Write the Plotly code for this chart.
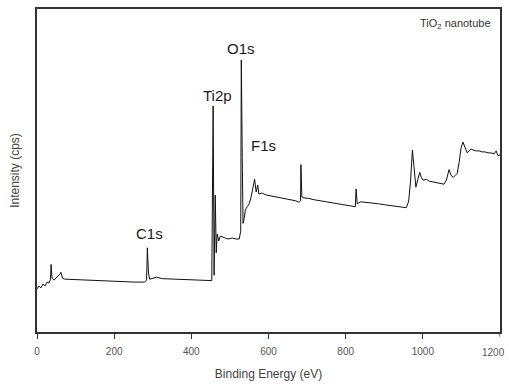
import plotly.graph_objects as go

# Binding energy (eV) and intensity (cps, arbitrary scale)
energy = [0, 5, 10, 15.5, 20.6, 26, 31, 35, 36.5, 39, 44, 49, 54, 59, 62, 66, 72, 98, 137, 175,
          214, 253, 279, 284, 286, 289, 292, 299, 310, 325, 356, 395, 434, 453, 456.5, 459, 462,
          464.5, 467, 471, 475, 480, 488, 495, 506, 516, 524, 528, 529.5, 532, 534, 537, 540,
          545, 550, 555, 560, 564, 568, 572, 575, 583, 594, 606, 619, 632, 645, 658, 671, 679,
          683, 684, 686.5, 692, 704, 720, 735, 751, 766, 782, 797, 813, 825, 827, 830, 839, 854,
          870, 885, 901, 916, 932, 947, 957, 963, 968, 973, 977, 982, 987, 992, 996, 1001, 1009,
          1017, 1024, 1032, 1040, 1048, 1055, 1061, 1066, 1068, 1073, 1079, 1084, 1089, 1094,
          1099, 1104, 1110, 1115, 1120, 1125, 1130, 1138, 1146, 1154, 1161, 1169, 1177, 1185,
          1190, 1195, 1200]
intensity = [13200, 14100, 13500, 14700, 14100, 15300, 15000, 16200, 20700, 16500, 15900, 16500,
             16800, 17700, 18300, 16500, 16200, 16050, 15900, 15600, 15450, 15300, 15300, 15900,
             25800, 18000, 16200, 16500, 16800, 16350, 16200, 15900, 15900, 15750, 69300, 17400,
             42000, 24300, 30000, 27900, 29400, 29100, 28800, 28500, 28800, 28500, 28500, 30900,
             83400, 53400, 33300, 34800, 37500, 38400, 39300, 41400, 44400, 46800, 42900, 45000,
             42300, 42600, 42000, 41700, 41400, 41100, 40800, 40500, 40200, 39750, 40200, 51300,
             41400, 41100, 40950, 40500, 40200, 39900, 39600, 39300, 39000, 38700, 38400, 43800,
             39300, 39900, 39750, 39450, 39300, 39000, 38700, 38400, 38250, 38100, 39900, 45900,
             55800, 50400, 44400, 46800, 48900, 47400, 46500, 46800, 46200, 46050, 45900, 45600,
             45450, 45300, 46500, 48900, 49800, 48000, 47400, 48000, 48600, 51900, 56400, 58200,
             56400, 54900, 55500, 56100, 55800, 55500, 55500, 55200, 55200, 54900, 54900, 54600,
             55500, 54000, 54300]

peak_labels = ["C1s", "Ti2p", "O1s", "F1s"]
peak_label_x = [291, 469, 529, 586]
peak_label_y = [30300, 72600, 87000, 57300]

x_ticks = [0, 200, 400, 600, 800, 1000, 1200]
x_tick_text = ["0", "200", "400", "600", "800", "1000", "1200"]

FONT = "Arial, 'Liberation Sans', sans-serif"

fig = go.Figure()
fig.add_trace(go.Scatter(x=energy, y=intensity, mode="lines",
                         line=dict(color="#111111", width=1), showlegend=False,
                         hoverinfo="skip"))

for t, x, y in zip(peak_labels, peak_label_x, peak_label_y):
    fig.add_annotation(x=x, y=y, text=t, showarrow=False, xanchor="center",
                       yanchor="middle", font=dict(family=FONT, size=15, color="#1a1a1a"))

fig.add_annotation(xref="paper", yref="paper", x=0.985, y=0.955, text="TiO<sub>2</sub> nanotube",
                   showarrow=False, xanchor="right", yanchor="middle",
                   font=dict(family=FONT, size=11, color="#333333"))

# last tick label sits at the page edge; draw it as an annotation kept inside the page
fig.add_annotation(x=x_ticks[-1], xref="x", yref="paper", y=-0.062, text=x_tick_text[-1],
                   showarrow=False, xanchor="right", xshift=7, yanchor="middle",
                   font=dict(family=FONT, size=10, color="#555555"))

fig.update_layout(
    width=509, height=386,
    margin=dict(l=37, r=7, t=8, b=48),
    paper_bgcolor="white", plot_bgcolor="white",
    font=dict(family=FONT, color="#333333"),
    xaxis=dict(range=[0, 1200], tickvals=x_ticks[:-1], ticktext=x_tick_text[:-1],
               ticks="outside", ticklen=5, ticklabelstandoff=4,
               tickwidth=1.2, tickcolor="#333333", showline=True, linecolor="#333333",
               linewidth=1.5, mirror=True, showgrid=False, zeroline=False,
               tickfont=dict(size=10, color="#555555"),
               title=dict(text="Binding Energy (eV)", font=dict(size=12, color="#444444"),
                          standoff=14)),
    yaxis=dict(range=[0, 99000], showticklabels=False, ticks="", showline=True,
               linecolor="#333333", linewidth=1.5, mirror=True, showgrid=False,
               zeroline=False,
               title=dict(text="Intensity (cps)", font=dict(size=12, color="#444444"),
                          standoff=13)),
)
# tick mark at 1200 (its label is the annotation above)
fig.add_shape(type="line", xref="x", yref="paper", x0=x_ticks[-1], x1=x_ticks[-1],
              y0=0, y1=-0.015, line=dict(color="#333333", width=1.2))

fig.write_html("out.html")
